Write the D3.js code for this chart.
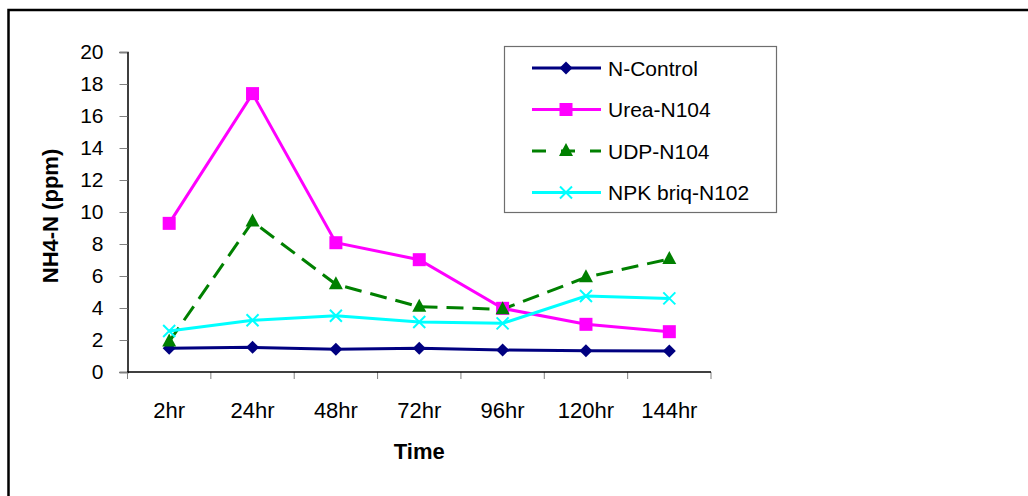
<!DOCTYPE html>
<html>
<head>
<meta charset="utf-8">
<script src="https://cdn.jsdelivr.net/npm/d3@7/dist/d3.min.js"></script>
<style>
  html, body { margin: 0; padding: 0; background: #fff; }
  svg { display: block; font-family: "Liberation Sans", Arial, sans-serif; }
</style>
</head>
<body>
<svg id="chart" width="1028" height="496"></svg>
<script>
// Sampling times
const categories = ["2hr", "24hr", "48hr", "72hr", "96hr", "120hr", "144hr"];

// NH4-N concentration (ppm) per treatment
const nControl = [1.48, 1.54, 1.42, 1.48, 1.37, 1.33, 1.31];
const urea     = [9.29, 17.4, 8.08, 7.02, 3.98, 2.98, 2.52];
const udp      = [1.9, 9.4, 5.48, 4.08, 3.92, 5.92, 7.06];
const npkBriq  = [2.56, 3.23, 3.52, 3.13, 3.04, 4.75, 4.6];

const seriesNames = ["N-Control", "Urea-N104", "UDP-N104", "NPK briq-N102"];
const yTicks = [0, 2, 4, 6, 8, 10, 12, 14, 16, 18, 20];

const series = [
  { name: seriesNames[0], values: nControl, color: "#000080", marker: "diamond", dash: null },
  { name: seriesNames[1], values: urea,     color: "#FF00FF", marker: "square",  dash: null },
  { name: seriesNames[2], values: udp,      color: "#008000", marker: "triangle", dash: "17,9" },
  { name: seriesNames[3], values: npkBriq,  color: "#00FFFF", marker: "cross",   dash: null }
];

const svg = d3.select("#chart");

// Outer chart frame
svg.append("rect")
  .attr("x", 8.5).attr("y", 10)
  .attr("width", 1100).attr("height", 600)
  .attr("fill", "none").attr("stroke", "#000").attr("stroke-width", 2.5);

const x = d3.scaleBand().domain(categories).range([127.5, 711]);
const y = d3.scaleLinear().domain([0, 20]).range([372, 52]);

// Y axis
const yAxis = svg.append("g")
  .attr("transform", "translate(127.5,0)")
  .call(d3.axisLeft(y).tickValues(yTicks).tickSize(8).tickPadding(16));
yAxis.select(".domain").attr("stroke", "#000").attr("stroke-width", 1.5);
yAxis.selectAll(".tick line").attr("stroke", "#808080");
yAxis.selectAll("text").attr("font-size", "21px").attr("fill", "#000")
  .attr("font-family", "Liberation Sans, Arial, sans-serif");

// X axis labels (centered in each band)
const xAxis = svg.append("g")
  .attr("transform", "translate(0,372)")
  .call(d3.axisBottom(x).tickSize(0).tickPadding(30));
xAxis.select(".domain").remove();
xAxis.selectAll("text").attr("font-size", "22px").attr("fill", "#000")
  .attr("font-family", "Liberation Sans, Arial, sans-serif");

// X axis line and boundary ticks between categories
const boundaries = d3.range(categories.length + 1).map(i => x.range()[0] + i * x.step());
svg.append("g").selectAll("line.xtick")
  .data(boundaries).join("line")
  .attr("x1", d => d).attr("x2", d => d)
  .attr("y1", 372).attr("y2", 379)
  .attr("stroke", "#808080").attr("stroke-width", 1);
svg.append("line")
  .attr("x1", x.range()[0]).attr("x2", x.range()[1])
  .attr("y1", 372).attr("y2", 372)
  .attr("stroke", "#000").attr("stroke-width", 1.5);

// Axis titles
svg.append("text")
  .attr("transform", "translate(50,216) rotate(-90)")
  .attr("text-anchor", "middle").attr("dominant-baseline", "central")
  .attr("font-size", "22px").attr("font-weight", "bold")
  .text("NH4-N (ppm)");
svg.append("text")
  .attr("x", (x.range()[0] + x.range()[1]) / 2).attr("y", 459)
  .attr("text-anchor", "middle")
  .attr("font-size", "22px").attr("font-weight", "bold")
  .text("Time");

// Marker drawing
function drawMarker(g, type, color) {
  if (type === "diamond") {
    g.append("path").attr("d", "M0,-6.5L6.5,0L0,6.5L-6.5,0Z").attr("fill", color);
  } else if (type === "square") {
    g.append("rect").attr("x", -6.5).attr("y", -6.5).attr("width", 13).attr("height", 13).attr("fill", color);
  } else if (type === "triangle") {
    g.append("path").attr("d", "M0,-8L7,5L-7,5Z").attr("fill", color);
  } else if (type === "cross") {
    g.append("path").attr("d", "M-6,-6L6,6M-6,6L6,-6")
      .attr("stroke", color).attr("stroke-width", 2).attr("fill", "none");
  }
}

const line = d3.line()
  .x((d, i) => x(categories[i]) + x.bandwidth() / 2)
  .y(d => y(d));

// Series lines and markers
series.forEach(s => {
  svg.append("path")
    .attr("d", line(s.values))
    .attr("fill", "none")
    .attr("stroke", s.color)
    .attr("stroke-width", 3)
    .attr("stroke-dasharray", s.dash);
});
series.forEach(s => {
  s.values.forEach((v, i) => {
    const g = svg.append("g")
      .attr("transform", `translate(${x(categories[i]) + x.bandwidth() / 2},${y(v)})`);
    drawMarker(g, s.marker, s.color);
  });
});

// Legend
const legend = svg.append("g");
legend.append("rect")
  .attr("x", 504.5).attr("y", 46.5).attr("width", 272).attr("height", 166)
  .attr("fill", "#fff").attr("stroke", "#6e6e6e").attr("stroke-width", 1.2);
series.forEach((s, i) => {
  const cy = 68 + i * 41.5;
  legend.append("line")
    .attr("x1", 532).attr("x2", 601).attr("y1", cy).attr("y2", cy)
    .attr("stroke", s.color).attr("stroke-width", 3)
    .attr("stroke-dasharray", s.dash ? "14,15" : null);
  const g = legend.append("g").attr("transform", `translate(566,${cy})`);
  drawMarker(g, s.marker, s.color);
  legend.append("text")
    .attr("x", 608).attr("y", cy + 7.5)
    .attr("font-size", "21px")
    .text(s.name);
});
</script>
</body>
</html>
